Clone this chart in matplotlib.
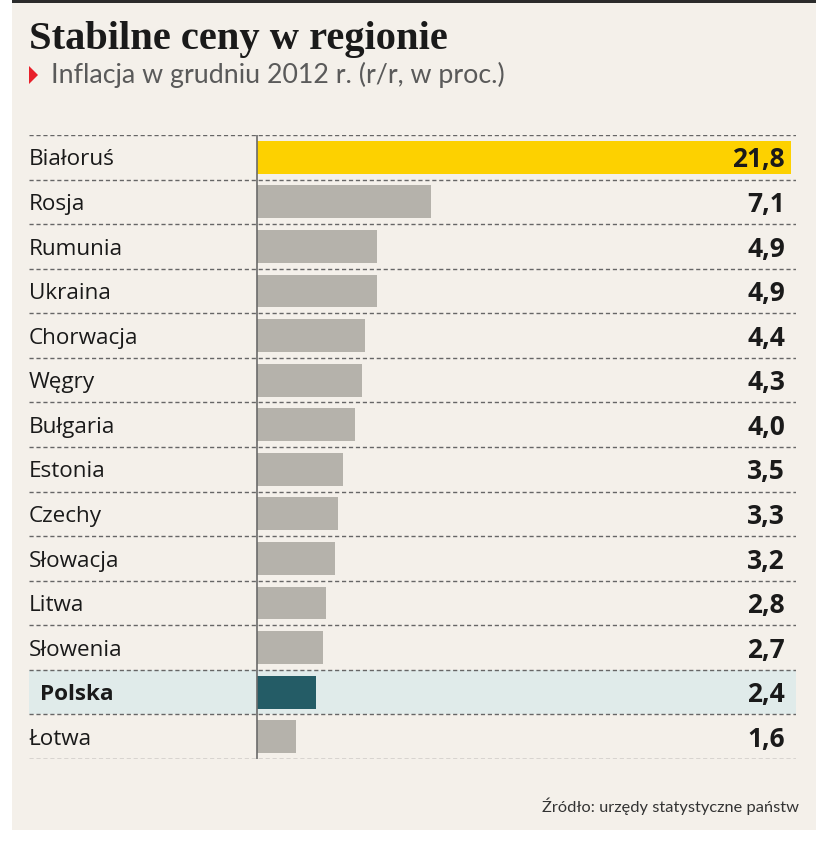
import matplotlib
matplotlib.use("Agg")
import matplotlib.pyplot as plt
from matplotlib.patches import Rectangle, Polygon
import matplotlib.transforms as mtransforms

countries = ["Białoruś", "Rosja", "Rumunia", "Ukraina", "Chorwacja", "Węgry", "Bułgaria",
             "Estonia", "Czechy", "Słowacja", "Litwa", "Słowenia", "Polska", "Łotwa"]
values = [21.8, 7.1, 4.9, 4.9, 4.4, 4.3, 4.0, 3.5, 3.3, 3.2, 2.8, 2.7, 2.4, 1.6]
value_labels = ["21,8", "7,1", "4,9", "4,9", "4,4", "4,3", "4,0", "3,5", "3,3", "3,2",
                "2,8", "2,7", "2,4", "1,6"]

W, H = 830, 851
fig = plt.figure(figsize=(W / 100, H / 100), dpi=100)
fig.patch.set_facecolor("white")

def fx(px):
    return px / W

def fy(py):
    return 1 - py / H

BG = "#f4f0ea"
fig.patches.append(Rectangle((fx(12), fy(830)), fx(816) - fx(12), fy(3) - fy(830),
                             transform=fig.transFigure, facecolor=BG, edgecolor="none", zorder=-10))
fig.patches.append(Rectangle((fx(12), fy(3)), fx(816) - fx(12), fy(0) - fy(3),
                             transform=fig.transFigure, facecolor="#2b2b2b", edgecolor="none", zorder=-9))

# Title and subtitle
fig.text(fx(29), fy(40), "Stabilne ceny w regionie", family="Liberation Serif", weight="bold",
         fontsize=29.2, color="#1a1a1a", va="center", ha="left")
fig.patches.append(Polygon([(fx(29), fy(66)), (fx(29), fy(84)), (fx(38), fy(75))],
                           closed=True, transform=fig.transFigure, facecolor="#e8202a",
                           edgecolor="none", zorder=-8))
fig.text(fx(51), fy(75), "Inflacja w grudniu 2012 r. (r/r, w proc.)", family="Lato",
         fontsize=19.3, color="#5a5a5a", va="center", ha="left")

# Axes
left_px, right_px = 29, 796
zero_px = 257
scale = (791 - zero_px) / values[0]
ax = fig.add_axes([fx(left_px), fy(759), fx(right_px) - fx(left_px), fy(135) - fy(759)])
ax.set_facecolor("none")
ax.set_xlim(-(zero_px - left_px) / scale, (right_px - zero_px) / scale)
n = len(countries)
ax.set_ylim(n - 0.5, -0.5)
for s in ax.spines.values():
    s.set_visible(False)
ax.set_xticks([])
ax.set_yticks([])

polska_idx = countries.index("Polska")
ax.axhspan(polska_idx - 0.5, polska_idx + 0.5, facecolor="#e0ebea", edgecolor="none", zorder=0)

colors = []
for i, c in enumerate(countries):
    if i == 0:
        colors.append("#fdd100")
    elif c == "Polska":
        colors.append("#245c66")
    else:
        colors.append("#b5b2ab")
ax.barh(range(n), values, height=0.74, color=colors, zorder=2)

for k in range(n + 1):
    ax.axhline(k - 0.5, color="#666666", lw=1.0, ls=(0, (3, 2)), zorder=3)
ax.axvline(0, color="#6a6a6a", lw=1.2, zorder=4)

trans = mtransforms.blended_transform_factory(fig.transFigure, ax.transData)
for i, (c, v) in enumerate(zip(countries, value_labels)):
    bold = c == "Polska"
    ax.text(fx(40) if bold else fx(29), i + 0.06, c, transform=trans, ha="left", va="center",
            family="Open Sans", fontsize=16.2, weight="bold" if bold else "normal", color="#1a1a1a")
    ax.text(fx(785), i + 0.06, v, transform=trans, ha="right", va="center",
            family="Open Sans", fontsize=19, weight="bold", color="#1a1a1a")

fig.text(fx(799), fy(806), "Źródło: urzędy statystyczne państw", family="Lato",
         fontsize=11.8, color="#333333", ha="right", va="center")

fig.savefig("out.png", dpi=100, facecolor=fig.get_facecolor())
